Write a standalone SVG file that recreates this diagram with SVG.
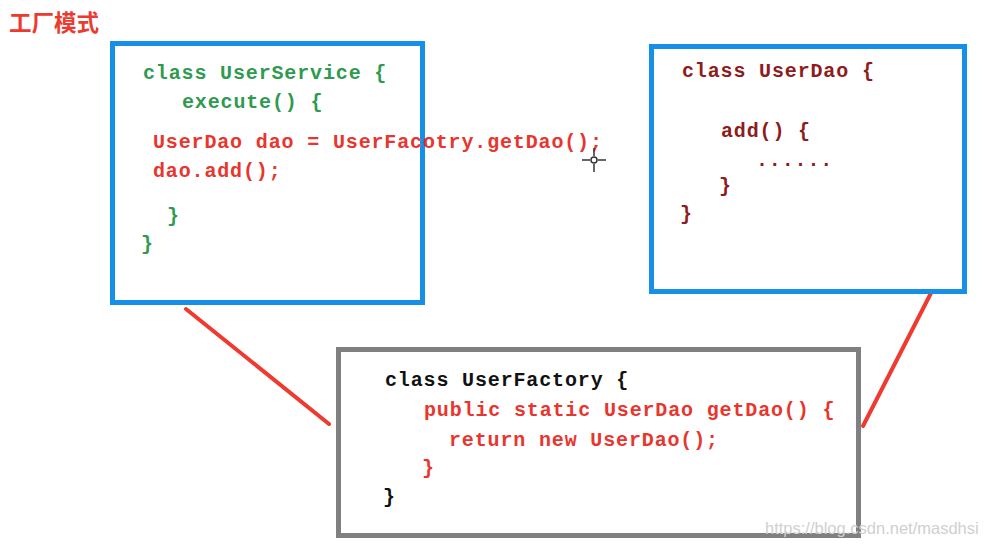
<svg xmlns="http://www.w3.org/2000/svg" width="984" height="549" viewBox="0 0 984 549">
<style>
.code{font-family:"Liberation Mono","DejaVu Sans Mono",monospace;font-size:20px;letter-spacing:0.85px;font-weight:bold}
.g{fill:#2f9a50}
.r{fill:#e8352e}
.d{fill:#8e1c1c}
.k{fill:#111}
.box{fill:none;stroke-width:5}
.conn{stroke:#ef3a2f;stroke-width:4;stroke-linecap:round}
</style>
<rect width="984" height="549" fill="#fff"/>
<text x="9" y="31" font-family="'Noto Sans CJK SC',sans-serif" font-size="22.5" font-weight="bold" fill="#ec3a30">工厂模式</text>
<g id="connectors">
<line class="conn" x1="186" y1="309" x2="329" y2="424"/>
<line class="conn" x1="931" y1="293" x2="863" y2="426"/>
</g>
<g id="UserService">
<rect class="box" x="112.5" y="43.5" width="310" height="259" stroke="#1690e6"/>
<text class="code g" x="143" y="79">class UserService {</text>
<text class="code g" x="182" y="108">execute() {</text>
<text class="code r" x="153" y="148">UserDao dao = UserFacotry.getDao();</text>
<text class="code r" x="153" y="177">dao.add();</text>
<text class="code g" x="167" y="222">}</text>
<text class="code g" x="141" y="250">}</text>
</g>
<g id="UserDao">
<rect class="box" x="651.5" y="46.5" width="313" height="245" stroke="#1690e6"/>
<text class="code d" x="682" y="77">class UserDao {</text>
<text class="code d" x="721" y="137">add() {</text>
<text class="code d" x="756" y="166">......</text>
<text class="code d" x="719" y="192">}</text>
<text class="code d" x="680" y="220">}</text>
</g>
<g id="UserFactory">
<rect class="box" x="338.5" y="349.5" width="520" height="186" stroke="#808080"/>
<text class="code k" x="385" y="386">class UserFactory {</text>
<text class="code r" x="424" y="416">public static UserDao getDao() {</text>
<text class="code r" x="449" y="446">return new UserDao();</text>
<text class="code r" x="422" y="474">}</text>
<text class="code k" x="383" y="503">}</text>
</g>
<g id="cursor" stroke="#333" stroke-width="1.5" fill="none">
<line x1="582" y1="160" x2="590" y2="160"/>
<line x1="598" y1="160" x2="606" y2="160"/>
<line x1="594" y1="148" x2="594" y2="156"/>
<line x1="594" y1="164" x2="594" y2="172"/>
<circle cx="594" cy="160" r="3"/>
</g>
<text x="765" y="534" font-family="'Liberation Sans',sans-serif" font-size="16.5" fill="#d0d0d0">https://blog.csdn.net/masdhsi</text>
</svg>
